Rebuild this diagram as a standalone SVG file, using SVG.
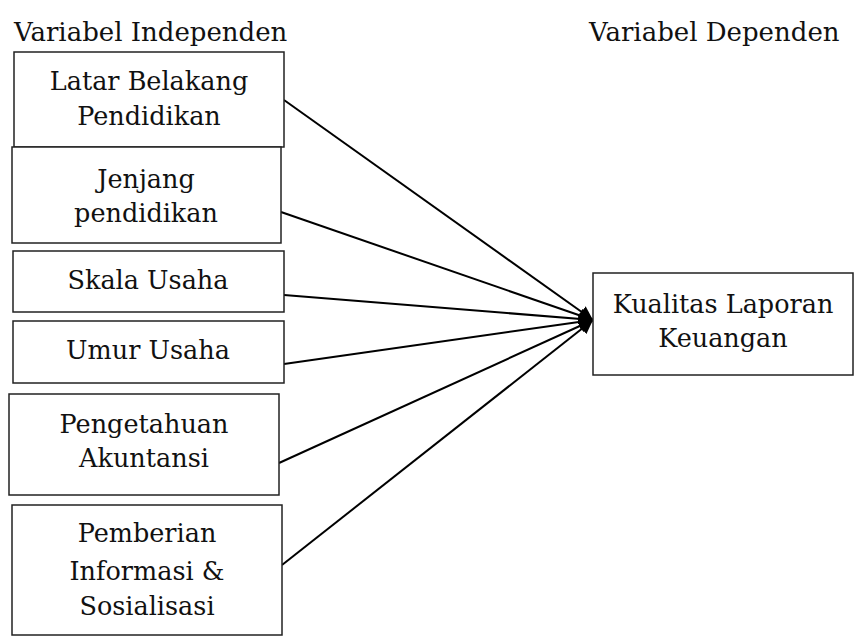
<svg xmlns="http://www.w3.org/2000/svg" width="855" height="644" viewBox="0 0 855 644">
<style>
.box{fill:#fff;stroke:#222;stroke-width:1.5}
.t{font-family:"DejaVu Serif","Liberation Serif",serif;font-size:25.5px;fill:#111;text-anchor:middle}
.h{font-family:"DejaVu Serif","Liberation Serif",serif;font-size:26px;fill:#111}
.c{stroke:#000;stroke-width:2;fill:none;marker-end:url(#ah)}
</style>
<defs>
<marker id="ah" viewBox="0 0 10 10" refX="10" refY="5" markerWidth="7" markerHeight="7" markerUnits="strokeWidth" orient="auto">
<path d="M0,0 L10,5 L0,10 z" fill="#000"/>
</marker>
</defs>
<text class="h" x="14" y="41">Variabel Independen</text>
<text class="h" x="589" y="41">Variabel Dependen</text>
<g id="connectors">
<line class="c" x1="284" y1="100" x2="593" y2="320"/>
<line class="c" x1="281" y1="212" x2="593" y2="320"/>
<line class="c" x1="284" y1="295" x2="593" y2="320"/>
<line class="c" x1="284" y1="364" x2="593" y2="320"/>
<line class="c" x1="279" y1="463" x2="593" y2="320"/>
<line class="c" x1="282" y1="565" x2="593" y2="320"/>
</g>
<g id="n1"><rect class="box" x="14" y="52" width="270" height="95"/><text class="t" x="149" y="90">Latar Belakang</text><text class="t" x="149" y="125">Pendidikan</text></g>
<g id="n2"><rect class="box" x="12" y="147" width="269" height="96"/><text class="t" x="146" y="188">Jenjang</text><text class="t" x="146" y="222">pendidikan</text></g>
<g id="n3"><rect class="box" x="13" y="251" width="271" height="61"/><text class="t" x="148" y="289">Skala Usaha</text></g>
<g id="n4"><rect class="box" x="13" y="321" width="271" height="62"/><text class="t" x="148" y="359">Umur Usaha</text></g>
<g id="n5"><rect class="box" x="9" y="394" width="270" height="101"/><text class="t" x="144" y="433">Pengetahuan</text><text class="t" x="144" y="467">Akuntansi</text></g>
<g id="n6"><rect class="box" x="12" y="505" width="270" height="130"/><text class="t" x="147" y="542">Pemberian</text><text class="t" x="147" y="580">Informasi &amp;</text><text class="t" x="147" y="615">Sosialisasi</text></g>
<g id="n7"><rect class="box" x="593" y="273" width="260" height="102"/><text class="t" x="723" y="313">Kualitas Laporan</text><text class="t" x="723" y="347">Keuangan</text></g>
</svg>
